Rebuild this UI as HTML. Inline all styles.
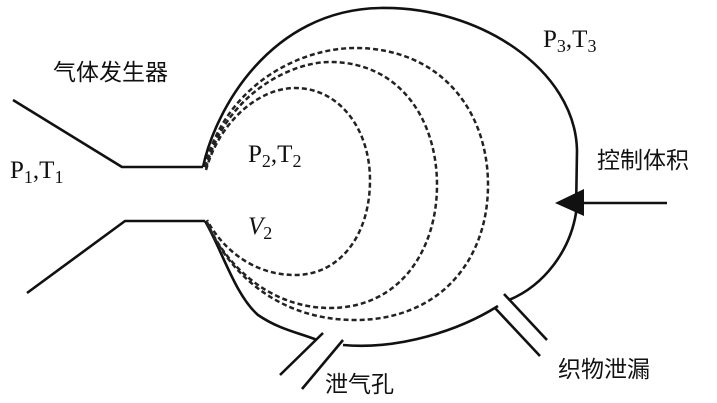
<!DOCTYPE html>
<html><head><meta charset="utf-8"><style>
html,body{margin:0;padding:0;background:#fff;width:717px;height:403px;overflow:hidden}
svg{display:block}
.c{font-family:"Liberation Sans","Noto Sans CJK SC",sans-serif;font-size:23px;fill:#111}
.s{font-family:"Liberation Serif",serif;font-size:25px;fill:#111}
</style></head><body>
<svg width="717" height="403" viewBox="0 0 717 403" xmlns="http://www.w3.org/2000/svg">
<g fill="none" stroke="#111" stroke-width="2.6" stroke-linejoin="round">
<polyline points="13,100 122,167 203,167"/>
<polyline points="27,293 125,221 205,221"/>
<path d="M203,167 C215,110 270,10 380,8 C480,6 575,70 577,150 L576,213 C570,250 545,285 509,300"/>
<path d="M498,306 C460,330 400,350 343,345"/>
<path d="M205,221 C222,250 235,295 258,315 C280,330 300,333 317,340"/>
<line x1="323" y1="333" x2="280" y2="375"/>
<line x1="343" y1="340" x2="302" y2="389"/>
<line x1="495" y1="308" x2="540" y2="356"/>
<line x1="504" y1="294" x2="547" y2="340"/>
<line x1="667" y1="203" x2="580" y2="203"/>
</g>
<polygon points="555,203 584,189 584,216" fill="#111"/>
<g fill="none" stroke="#222" stroke-width="2.5" stroke-dasharray="5,3">
<path d="M206,170 C220,120 260,88 295,88 C340,88 370,130 370,180 C370,235 340,275 295,275 C250,275 220,245 207,220"/>
<path d="M206,168 C225,95 290,62 330,62 C400,62 437,120 437,185 C437,250 400,308 330,308 C270,308 225,265 207,222"/>
<path d="M205,167 C225,85 300,48 355,48 C440,48 488,110 488,185 C488,260 440,320 355,320 C280,320 230,275 207,223"/>
</g>
<text class="c" x="53" y="80">气体发生器</text>
<text class="s" x="10" y="178">P<tspan font-size="18" dy="5">1</tspan><tspan dy="-5">,T</tspan><tspan font-size="18" dy="5">1</tspan></text>
<text class="s" x="248" y="162">P<tspan font-size="18" dy="5">2</tspan><tspan dy="-5">,T</tspan><tspan font-size="18" dy="5">2</tspan></text>
<text class="s" x="248" y="234" font-style="italic">V<tspan font-size="18" dy="5" font-style="normal">2</tspan></text>
<text class="s" x="543" y="47">P<tspan font-size="18" dy="5">3</tspan><tspan dy="-5">,T</tspan><tspan font-size="18" dy="5">3</tspan></text>
<text class="c" x="597" y="168">控制体积</text>
<text class="c" x="558" y="377">织物泄漏</text>
<text class="c" x="325" y="392">泄气孔</text>
</svg>
</body></html>
